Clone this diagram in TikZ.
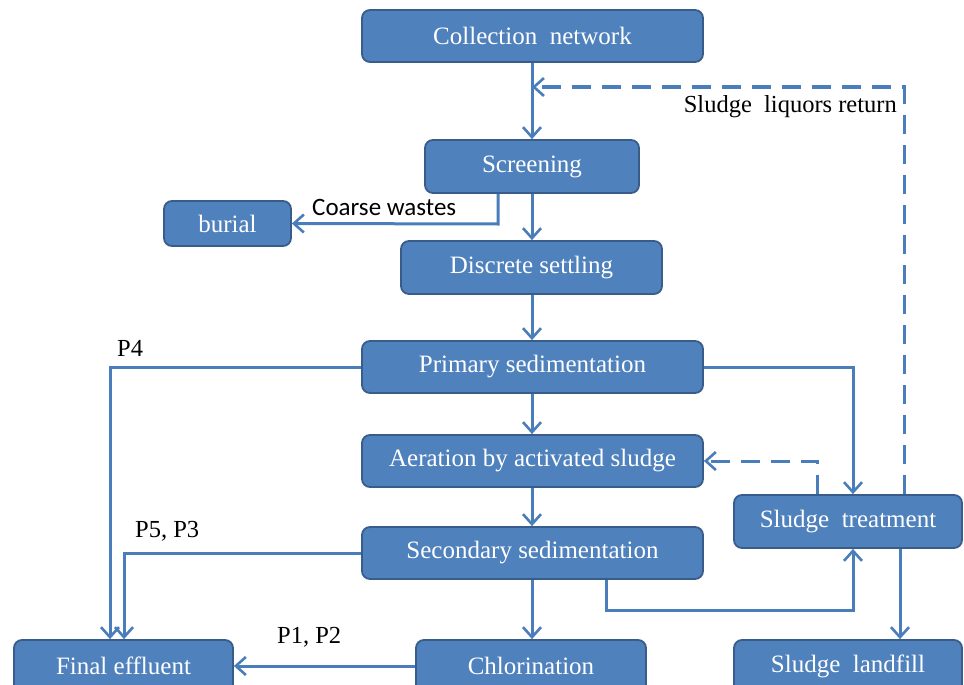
\documentclass[tikz,border=0pt]{standalone}
\usepackage{fontspec}
\setmainfont{Liberation Serif}
\newfontfamily\carlitofont{Carlito}
\usetikzlibrary{arrows.meta}
\definecolor{boxfill}{HTML}{4F81BD}
\definecolor{boxline}{HTML}{385D8A}
\definecolor{lnk}{HTML}{4A7EBB}
\tikzset{
  pbox/.style={draw=boxline, line width=1.8pt, fill=boxfill, rounded corners=8pt, text=white,
    font=\fontsize{25}{28}\selectfont, inner sep=0pt},
  flow/.style={draw=lnk, line width=3pt, -{Straight Barb[length=10pt,width=18pt,line width=2.6pt]}},
  flowd/.style={flow, dash pattern=on 19pt off 11pt},
  lbl/.style={font=\fontsize{24.5}{28}\selectfont, text=black, inner sep=0pt}
}
\begin{document}
\begin{tikzpicture}[x=1pt,y=-1pt]
\useasboundingbox (0,0) rectangle (964,685);
\clip (0,0) rectangle (964,685);
\node[pbox, minimum width=341pt, minimum height=52pt] (coll) at (532.5,36) {Collection\ \ network};
\node[pbox, minimum width=214pt, minimum height=53pt] (scr) at (532,166.5) {Screening};
\node[pbox, minimum width=127pt, minimum height=45pt] (bur) at (227.5,223.5) {burial};
\node[pbox, minimum width=261pt, minimum height=53pt] (disc) at (531.5,267.5) {Discrete settling};
\node[pbox, minimum width=341pt, minimum height=52pt] (prim) at (532.5,367) {Primary sedimentation};
\node[pbox, minimum width=341pt, minimum height=52pt] (aer) at (532.5,461) {Aeration by activated sludge};
\node[pbox, minimum width=228pt, minimum height=53pt] (sst) at (848,521.5) {Sludge\ \ treatment};
\node[pbox, minimum width=341pt, minimum height=52pt] (sec) at (532.5,553) {Secondary sedimentation};
\node[pbox, minimum width=219pt, minimum height=52pt] (fin) at (123.5,666) {Final effluent};
\node[pbox, minimum width=230pt, minimum height=52pt] (chl) at (531,666) {Chlorination};
\node[pbox, minimum width=228pt, minimum height=52pt] (land) at (848,666) {Sludge\ \ landfill};

\coordinate (j1) at (532,87);
% main line
\draw[flow] (coll.south -| 532,0) -- (scr.north -| 532,0);
\draw[flow] (scr.south -| 532,0) -- (disc.north -| 532,0);
\draw[flow] (disc.south -| 532,0) -- (prim.north -| 532,0);
\draw[flow] (prim.south -| 532,0) -- (aer.north -| 532,0);
\draw[flow] (aer.south -| 532,0) -- (sec.north -| 532,0);
\draw[flow] (sec.south -| 532,0) -- (chl.north -| 532,0);
% sludge liquors return
\draw[flowd] (sst.north -| 904,0) -- (904,87) -- (j1);
\node[lbl, anchor=east] (slr) at (897,107) {Sludge\ \ liquors return};
% coarse wastes
\draw[flow] (scr.south -| 498,0) -- (498,224) -- (bur.east);
\node[lbl, font=\carlitofont\fontsize{25}{28}\selectfont, anchor=south west] (cw) at (312,216) {Coarse wastes};
% P4
\draw[flow] (prim.west) -- (110,367) -- (fin.north -| 110,0);
\node[lbl, anchor=south west] (p4) at (117,357) {P4};
% primary to sludge treatment
\draw[flow] (prim.east) -- (853,367) -- (sst.north -| 853,0);
% return activated sludge
\draw[flowd] (sst.north -| 817,0) -- (817,461) -- (aer.east);
% P5, P3
\draw[flow] (sec.west) -- (124,553) -- (fin.north -| 124,0);
\node[lbl, anchor=south west] (p53) at (135,541) {P5, P3};
% secondary to sludge treatment
\draw[flow] (sec.south -| 606,0) -- (606,610) -- (853,610) -- (sst.south -| 853,0);
% sludge treatment to landfill
\draw[flow] (sst.south -| 900,0) -- (land.north -| 900,0);
% chlorination to final
\draw[flow] (chl.west) -- (fin.east);
\node[lbl, anchor=south west] (p12) at (277,647) {P1, P2};
\end{tikzpicture}
\end{document}
